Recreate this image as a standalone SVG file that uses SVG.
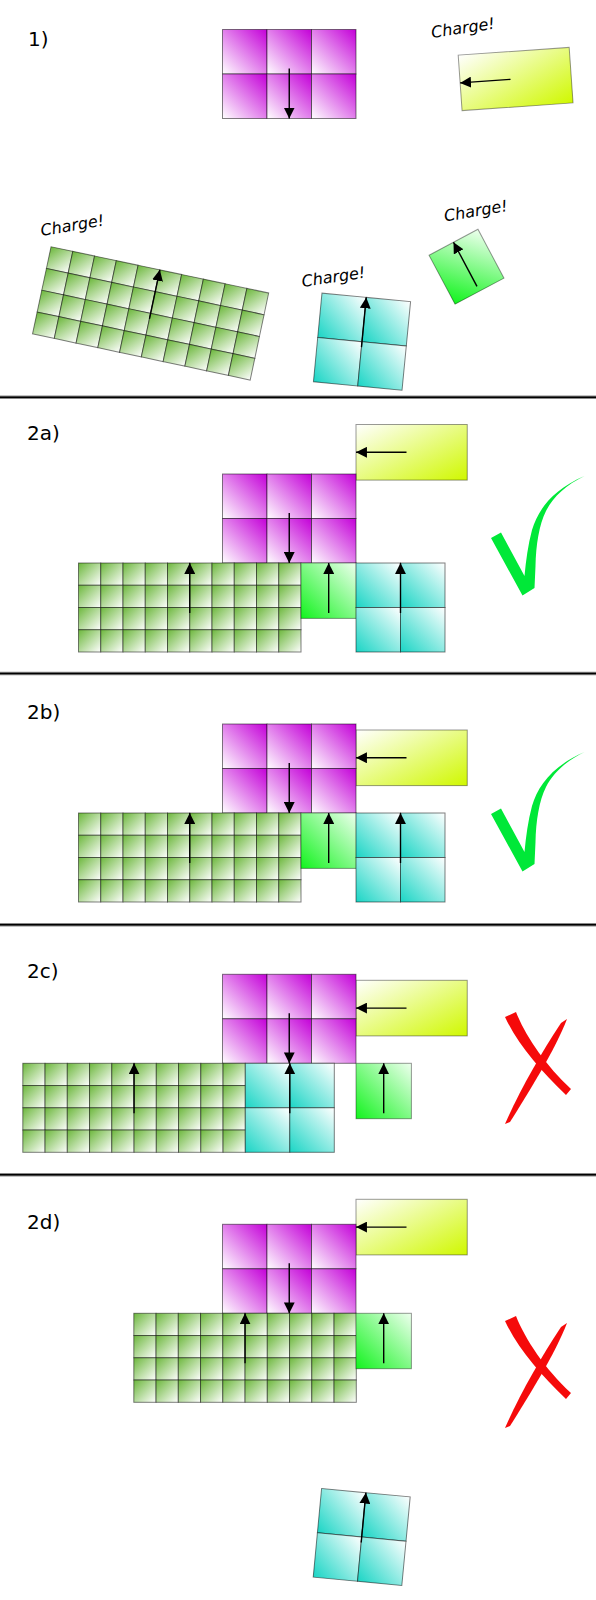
<svg xmlns="http://www.w3.org/2000/svg" xmlns:xlink="http://www.w3.org/1999/xlink" width="596" height="1600" viewBox="0 0 596 1600">
<style>
.pt{fill:url(#gPurple);stroke:#000;stroke-opacity:.5;stroke-width:1}
.gt{fill:url(#gGreen);stroke:#000;stroke-opacity:.5;stroke-width:1}
.ct{fill:url(#gCyan);stroke:#000;stroke-opacity:.5;stroke-width:1}
.lt{fill:url(#gLg);stroke:#000;stroke-opacity:.4;stroke-width:1}
.yt{fill:url(#gYel);stroke:#000;stroke-opacity:.4;stroke-width:1}
.arr{stroke:#000;stroke-width:1.4;fill:none;marker-end:url(#ah)}
.lbl{font-family:"DejaVu Sans","Liberation Sans",sans-serif;font-size:20px;fill:#000}
.chg{font-family:"DejaVu Sans","Liberation Sans",sans-serif;font-size:16px;font-style:italic;fill:#000}
.sep1{stroke:#888;stroke-width:3.6}
.sep2{stroke:#000;stroke-width:1.6}
.ok{fill:#00e838}
.no{fill:#f50a0a}
</style>
<defs>
<linearGradient id="gPurple" x1="0" y1="1" x2="1" y2="0"><stop offset="0" stop-color="#ffffff"/><stop offset="1" stop-color="#c400d8"/></linearGradient>
<linearGradient id="gGreen" x1="0" y1="0" x2="1" y2="1"><stop offset="0" stop-color="#6cb73c"/><stop offset="1" stop-color="#ffffff"/></linearGradient>
<linearGradient id="gCyan" x1="0" y1="1" x2="1" y2="0"><stop offset="0" stop-color="#1ad5c5"/><stop offset="1" stop-color="#ffffff"/></linearGradient>
<linearGradient id="gLg" x1="0" y1="1" x2="1" y2="0"><stop offset="0" stop-color="#12f41e"/><stop offset="1" stop-color="#eeffee"/></linearGradient>
<linearGradient id="gYel" x1="0" y1="0" x2="1" y2="1"><stop offset="0" stop-color="#ffffff"/><stop offset="1" stop-color="#d0f800"/></linearGradient>
<marker id="ah" viewBox="0 0 10 10" refX="10" refY="5" markerWidth="7.8" markerHeight="7.8" orient="auto"><path d="M0,0 L10,5 L0,10 z" fill="#000"/></marker>
<g id="purple">
<rect class="pt" x="0" y="0" width="44.5" height="44.5"/><rect class="pt" x="44.5" y="0" width="44.5" height="44.5"/><rect class="pt" x="89" y="0" width="44.5" height="44.5"/>
<rect class="pt" x="0" y="44.5" width="44.5" height="44.5"/><rect class="pt" x="44.5" y="44.5" width="44.5" height="44.5"/><rect class="pt" x="89" y="44.5" width="44.5" height="44.5"/>
<line class="arr" x1="66.75" y1="39" x2="66.75" y2="89"/>
</g>
<g id="grow">
<rect class="gt" x="0" y="0" width="22.25" height="22.25"/><rect class="gt" x="22.25" y="0" width="22.25" height="22.25"/><rect class="gt" x="44.5" y="0" width="22.25" height="22.25"/><rect class="gt" x="66.75" y="0" width="22.25" height="22.25"/><rect class="gt" x="89" y="0" width="22.25" height="22.25"/><rect class="gt" x="111.25" y="0" width="22.25" height="22.25"/><rect class="gt" x="133.5" y="0" width="22.25" height="22.25"/><rect class="gt" x="155.75" y="0" width="22.25" height="22.25"/><rect class="gt" x="178" y="0" width="22.25" height="22.25"/><rect class="gt" x="200.25" y="0" width="22.25" height="22.25"/>
</g>
<g id="green">
<use xlink:href="#grow" y="0"/><use xlink:href="#grow" y="22.25"/><use xlink:href="#grow" y="44.5"/><use xlink:href="#grow" y="66.75"/>
<line class="arr" x1="111.25" y1="50" x2="111.25" y2="0"/>
</g>
<g id="cyan">
<rect class="ct" x="0" y="0" width="44.5" height="44.5"/><rect class="ct" x="44.5" y="0" width="44.5" height="44.5"/>
<rect class="ct" x="0" y="44.5" width="44.5" height="44.5"/><rect class="ct" x="44.5" y="44.5" width="44.5" height="44.5"/>
<line class="arr" x1="44.5" y1="50" x2="44.5" y2="0"/>
</g>
<g id="lgreen">
<rect class="lt" x="0" y="0" width="55.4" height="55.4"/>
<line class="arr" x1="27.7" y1="50" x2="27.7" y2="0"/>
</g>
<g id="yellow">
<rect class="yt" x="0" y="0" width="111.25" height="55.6"/>
<line class="arr" x1="50.5" y1="27.8" x2="0" y2="27.8"/>
</g>
<path id="check" d="M491,538 L501,532.5 L524.5,576 C526,560 528,545 532,530 C538,510 552,490 584.5,476 C566,485 553,497 546,511 C539,525 536,545 535.5,566 L534.5,588 L522.5,595.5 Z"/>
<g id="cross">
<path d="M505,1017 L516,1012 C525,1035 545,1065 571,1089 L566,1095 C540,1070 518,1045 505,1017 Z"/>
<path d="M561,1023 L567,1019 C555,1050 530,1090 510,1122 L505,1124 C520,1090 540,1055 561,1023 Z"/>
</g>
</defs>

<g id="separators">
<line class="sep1" x1="0" y1="397.2" x2="596" y2="397.2"/><line class="sep2" x1="0" y1="397.2" x2="596" y2="397.2"/>
<line class="sep1" x1="0" y1="673.5" x2="596" y2="673.5"/><line class="sep2" x1="0" y1="673.5" x2="596" y2="673.5"/>
<line class="sep1" x1="0" y1="924.7" x2="596" y2="924.7"/><line class="sep2" x1="0" y1="924.7" x2="596" y2="924.7"/>
<line class="sep1" x1="0" y1="1174.7" x2="596" y2="1174.7"/><line class="sep2" x1="0" y1="1174.7" x2="596" y2="1174.7"/>
</g>

<g id="section1">
<text class="lbl" x="28" y="45.5">1)</text>
<g id="s1-purple"><use xlink:href="#purple" x="222.5" y="29.5"/></g>
<g id="s1-yellow"><use xlink:href="#yellow" transform="translate(515.6,79) rotate(-4) translate(-55.6,-27.8)"/></g>
<g id="s1-green"><use xlink:href="#green" transform="translate(150.6,313.4) rotate(12) translate(-111.25,-44.5)"/></g>
<g id="s1-cyan"><use xlink:href="#cyan" transform="translate(362,341.7) rotate(5.5) translate(-44.5,-44.5)"/></g>
<g id="s1-lgreen"><use xlink:href="#lgreen" transform="translate(466.5,266.7) rotate(-28) translate(-27.7,-27.7)"/></g>
<text class="chg" transform="translate(432,38) rotate(-8.5)">Charge!</text>
<text class="chg" transform="translate(41.5,236) rotate(-9.5)">Charge!</text>
<text class="chg" transform="translate(302.5,287) rotate(-8.5)">Charge!</text>
<text class="chg" transform="translate(445,221.5) rotate(-9.5)">Charge!</text>
</g>

<g id="section2a">
<text class="lbl" x="27" y="440">2a)</text>
<g id="a-yellow"><use xlink:href="#yellow" x="356" y="424.5"/></g>
<g id="a-purple"><use xlink:href="#purple" x="222.5" y="474"/></g>
<g id="a-green"><use xlink:href="#green" x="78.5" y="563"/></g>
<g id="a-lgreen"><use xlink:href="#lgreen" x="301" y="563"/></g>
<g id="a-cyan"><use xlink:href="#cyan" x="356" y="563"/></g>
<g id="a-check"><use xlink:href="#check" class="ok"/></g>
</g>

<g id="section2b">
<text class="lbl" x="27" y="719">2b)</text>
<g id="b-yellow"><use xlink:href="#yellow" x="356" y="730"/></g>
<g id="b-purple"><use xlink:href="#purple" x="222.5" y="724"/></g>
<g id="b-green"><use xlink:href="#green" x="78.5" y="813"/></g>
<g id="b-lgreen"><use xlink:href="#lgreen" x="301" y="813"/></g>
<g id="b-cyan"><use xlink:href="#cyan" x="356" y="813"/></g>
<g id="b-check"><use xlink:href="#check" class="ok" y="276"/></g>
</g>

<g id="section2c">
<text class="lbl" x="27" y="978">2c)</text>
<g id="c-yellow"><use xlink:href="#yellow" x="356" y="980.3"/></g>
<g id="c-purple"><use xlink:href="#purple" x="222.5" y="974.3"/></g>
<g id="c-green"><use xlink:href="#green" x="22.8" y="1063.3"/></g>
<g id="c-cyan"><use xlink:href="#cyan" x="245.3" y="1063.3"/></g>
<g id="c-lgreen"><use xlink:href="#lgreen" x="356" y="1063.3"/></g>
<g id="c-cross"><use xlink:href="#cross" class="no"/></g>
</g>

<g id="section2d">
<text class="lbl" x="27" y="1228.5">2d)</text>
<g id="d-yellow"><use xlink:href="#yellow" x="356" y="1199.3"/></g>
<g id="d-purple"><use xlink:href="#purple" x="222.5" y="1224.3"/></g>
<g id="d-green"><use xlink:href="#green" x="133.8" y="1313.3"/></g>
<g id="d-lgreen"><use xlink:href="#lgreen" x="356" y="1313.3"/></g>
<g id="d-cyan"><use xlink:href="#cyan" transform="translate(361.7,1537) rotate(5.4) translate(-44.5,-44.5)"/></g>
<g id="d-cross"><use xlink:href="#cross" class="no" y="304"/></g>
</g>
</svg>
